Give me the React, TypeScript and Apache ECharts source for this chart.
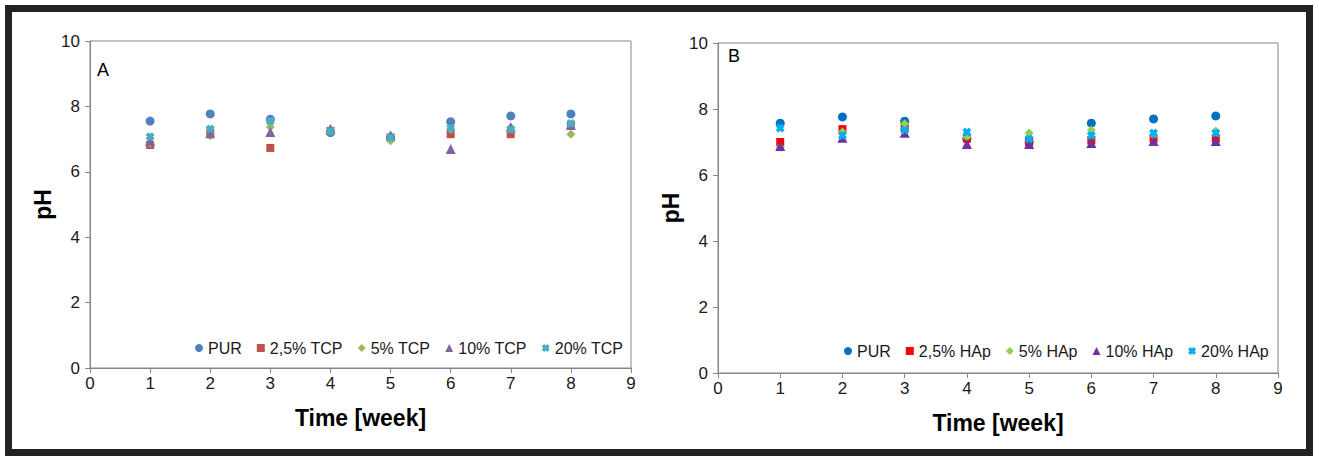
import React, { useEffect, useRef } from "react";
import * as echarts from "echarts";

const weeks = [1, 2, 3, 4, 5, 6, 7, 8];

// Panel A (TCP)
const namesA = ["PUR", "2,5% TCP", "5% TCP", "10% TCP", "20% TCP"];
const purA = [7.55, 7.77, 7.61, 7.2, 7.05, 7.53, 7.71, 7.77];
const tcp25 = [6.82, 7.2, 6.73, 7.25, 7.05, 7.15, 7.15, 7.42];
const tcp5 = [6.87, 7.1, 7.37, 7.25, 6.95, 7.3, 7.35, 7.15];
const tcp10 = [6.95, 7.18, 7.22, 7.32, 7.12, 6.7, 7.37, 7.43];
const tcp20 = [7.07, 7.31, 7.55, 7.25, 7.05, 7.33, 7.3, 7.48];

// Panel B (HAp)
const namesB = ["PUR", "2,5% HAp", "5% HAp", "10% HAp", "20% HAp"];
const purB = [7.57, 7.76, 7.63, 7.1, 7.0, 7.57, 7.7, 7.79];
const hap25 = [7.0, 7.39, 7.45, 7.1, 7.0, 7.05, 7.1, 7.1];
const hap5 = [6.85, 7.3, 7.55, 7.15, 7.27, 7.36, 7.2, 7.33];
const hap10 = [6.88, 7.13, 7.28, 6.94, 6.94, 6.97, 7.03, 7.03];
const hap20 = [7.42, 7.2, 7.36, 7.3, 7.09, 7.2, 7.27, 7.27];

const colorsA = ["#4F81BD", "#C0504D", "#9BBB59", "#8064A2", "#4BACC6"];
const colorsB = ["#0070C0", "#FF0000", "#92D050", "#7030A0", "#00B0F0"];

const xPath =
  "path://M0,3 L3,0 L5,2 L7,0 L10,3 L8,5 L10,7 L7,10 L5,8 L3,10 L0,7 L2,5 Z";
const symbols = ["circle", "rect", "diamond", "triangle", xPath];
const sizes = [9, 8, 9, 10, 9];

const FONT = "'Liberation Sans', Arial, sans-serif";

export default function App() {
  const ref = useRef<HTMLDivElement>(null);

  useEffect(() => {
    if (!ref.current) return;
    const chart = echarts.init(ref.current, undefined, { renderer: "svg" });

    const dataA = [purA, tcp25, tcp5, tcp10, tcp20];
    const dataB = [purB, hap25, hap5, hap10, hap20];

    const mkSeries = (names: string[], data: number[][], colors: string[], idx: number) =>
      names.map((n, i) => ({
        type: "scatter",
        name: n,
        xAxisIndex: idx,
        yAxisIndex: idx,
        symbol: symbols[i],
        symbolSize: sizes[i],
        itemStyle: { color: colors[i], opacity: 1 },
        data: weeks.map((w, k) => [w, data[i][k]]),
      }));

    const xAxisCommon = {
      type: "value",
      min: 0,
      max: 9,
      interval: 1,
      name: "Time [week]",
      nameLocation: "middle",
      nameGap: 38,
      nameTextStyle: { fontFamily: FONT, fontSize: 23, fontWeight: "bold", color: "#000" },
      axisLine: { show: true, lineStyle: { color: "#868686", width: 1 } },
      axisTick: { show: true, inside: false, length: 5, lineStyle: { color: "#868686" } },
      axisLabel: { fontFamily: FONT, fontSize: 17, color: "#1a1a1a", margin: 7 },
      splitLine: { show: false },
    };
    const yAxisCommon = {
      type: "value",
      min: 0,
      max: 10,
      interval: 2,
      name: "pH",
      nameLocation: "middle",
      nameRotate: 90,
      nameGap: 36,
      nameTextStyle: { fontFamily: FONT, fontSize: 23, fontWeight: "bold", color: "#000" },
      axisLine: { show: true, lineStyle: { color: "#868686", width: 1 } },
      axisTick: { show: true, inside: false, length: 5, lineStyle: { color: "#868686" } },
      axisLabel: { fontFamily: FONT, fontSize: 17, color: "#1a1a1a", margin: 10 },
      splitLine: { show: false },
    };

    const mkLegend = (names: string[], colors: string[], left: number, top: number) => ({
      left,
      top,
      orient: "horizontal",
      padding: 0,
      itemGap: 15,
      itemWidth: 8,
      itemHeight: 8,
      textStyle: { fontFamily: FONT, fontSize: 16, color: "#1a1a1a" },
      selectedMode: false,
      data: names.map((n, i) => ({
        name: n,
        icon: symbols[i],
        itemStyle: { color: colors[i] },
      })),
    });

    chart.setOption({
      animation: false,
      backgroundColor: "#fff",
      grid: [
        { left: 90, top: 41, width: 541, height: 327, show: true, borderColor: "#868686", borderWidth: 1 },
        { left: 718, top: 43, width: 560, height: 330, show: true, borderColor: "#868686", borderWidth: 1 },
      ],
      xAxis: [
        { ...xAxisCommon, gridIndex: 0 },
        { ...xAxisCommon, gridIndex: 1 },
      ],
      yAxis: [
        { ...yAxisCommon, gridIndex: 0 },
        { ...yAxisCommon, gridIndex: 1 },
      ],
      legend: [mkLegend(namesA, colorsA, 195, 340), mkLegend(namesB, colorsB, 844, 343)],
      series: [...mkSeries(namesA, dataA, colorsA, 0), ...mkSeries(namesB, dataB, colorsB, 1)],
      graphic: [
        {
          type: "rect",
          shape: { x: 8.5, y: 8.5, width: 1301, height: 444 },
          style: { fill: "none", stroke: "#222", lineWidth: 7 },
          silent: true,
        },
        {
          type: "text",
          left: 97,
          top: 61,
          style: { text: "A", fontFamily: FONT, fontSize: 18, fill: "#000" },
        },
        {
          type: "text",
          left: 728,
          top: 47,
          style: { text: "B", fontFamily: FONT, fontSize: 18, fill: "#000" },
        },
      ],
    });

    return () => chart.dispose();
  }, []);

  return (
    <div
      ref={ref}
      style={{ position: "absolute", left: 0, top: 0, width: 1319, height: 457 }}
    />
  );
}
